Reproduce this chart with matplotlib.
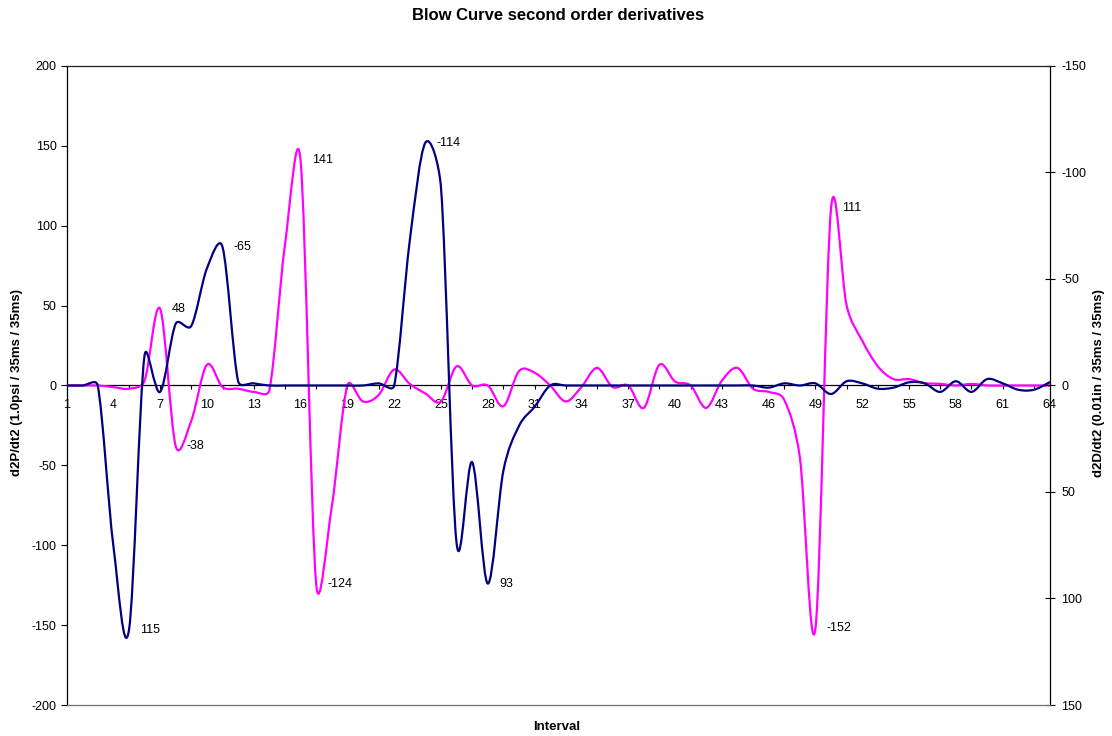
import numpy as np
import matplotlib
matplotlib.use("Agg")
import matplotlib.pyplot as plt
from matplotlib.path import Path
from matplotlib.patches import PathPatch

plt.rcParams["font.family"] = ["Liberation Sans", "DejaVu Sans"]
plt.rcParams["axes.unicode_minus"] = False

# ---------------- data ----------------
intervals = list(range(1, 65))

# d2P/dt2, left axis
pressure = [0, 0, 0, -1, -2, 3, 48, -38, -22, 13,
            -1, -2, -4, -3, 88, 141, -124, -76, 0, -10,
            -6, 10, 1, -5, -10, 12, 0, 0, -13, 9,
            8, 0, -10, -1, 11, -1, 0, -14, 13, 2.5,
            0, -14, 3, 11, -2, -4, -9, -45, -152, 111,
            50, 28, 12, 4, 4, 1.5, 1, 0, 1, 0,
            0, 0, 0, 0]

# d2D/dt2, right axis (inverted)
displacement = [0, 0, 0, 75, 115, -14, 3, -29, -28, -55,
                -65, -2, -1, 0, 0, 0, 0, 0, 0, 0,
                -1, 0, -68, -114, -93, 74, 36, 93, 40, 19,
                10, 0, 0, 0, 0, 0, 0, 0, 0, 0,
                0, 0, 0, 0, 0, 1, -1, 0, -1, 4,
                -2, -1, 1.5, 1, -1.5, -1, 3, -2, 3, -3,
                -1, 2, 2, -1.5]

pressure_labels = [7, 8, 16, 17, 49, 50]
displacement_labels = [5, 11, 24, 28]
x_labels = list(range(1, 65, 3))

W, H = 1112, 736


def smooth_line(axis, xs, ys, color, cap=0.5):
    # Excel-like smoothed line: cubic bezier through the points,
    # computed in screen space so the arms can be limited
    pts = axis.transData.transform(np.column_stack([xs, ys]))
    n = len(pts)
    verts = [pts[0]]
    codes = [Path.MOVETO]
    for i in range(n - 1):
        p0 = pts[max(i - 1, 0)]
        p1 = pts[i]
        p2 = pts[i + 1]
        p3 = pts[min(i + 2, n - 1)]
        seg = np.hypot(*(p2 - p1))
        arms = []
        for t in ((p2 - p0) / 6.0, (p3 - p1) / 6.0):
            L = np.hypot(*t)
            if L > cap * seg and L > 0:
                t = t * cap * seg / L
            arms.append(t)
        verts += [p1 + arms[0], p2 - arms[1], p2]
        codes += [Path.CURVE4] * 3
    data_verts = axis.transData.inverted().transform(np.array(verts))
    patch = PathPatch(Path(data_verts, codes), fill=False,
                      edgecolor=color, lw=1.6, zorder=3,
                      capstyle="round", joinstyle="round")
    axis.add_patch(patch)


fig = plt.figure(figsize=(W / 100, H / 100), dpi=100)
fig.patch.set_facecolor("white")

ax = fig.add_axes([66.5 / W, 1 - 705 / H, 983 / W, 639 / H])
ax2 = ax.twinx()

ax.set_xlim(1, 64)
ax.set_ylim(-200, 200)
ax2.set_ylim(150, -150)

# left axis
ax.set_yticks(range(-200, 201, 50))
ax.tick_params(axis="y", direction="out", length=4, width=0.8,
               pad=3, labelsize=9)

# category axis crossing at zero
ax.spines["bottom"].set_position(("data", 0))
ax.spines["top"].set_visible(False)
ax.spines["right"].set_visible(False)
ax.xaxis.remove_overlapping_locs = False
ax.set_xticks(range(1, 65, 2))
ax.set_xticklabels([])
ax.set_xticks(x_labels, minor=True)
ax.set_xticklabels([str(v) for v in x_labels], minor=True)
ax.tick_params(axis="x", which="major", direction="out", length=3,
               width=0.8)
ax.tick_params(axis="x", which="minor", length=0, pad=10, labelsize=9)

# right axis
ax2.set_yticks(range(-150, 151, 50))
ax2.tick_params(axis="y", direction="inout", length=7, width=0.8,
                pad=5, labelsize=9)
ax2.spines["left"].set_visible(False)
ax2.spines["top"].set_color("#202020")
ax2.spines["bottom"].set_color("#707070")

for a in (ax, ax2):
    for s in a.spines.values():
        s.set_linewidth(0.9)

smooth_line(ax, intervals, pressure, "#FF00FF")
smooth_line(ax2, intervals, displacement, "#000080")

for c in pressure_labels:
    v = pressure[c - 1]
    ax.annotate(f"{v:g}", (c, v), xytext=(8, 0), textcoords="offset points",
                ha="left", va="center", fontsize=9)
for c in displacement_labels:
    v = displacement[c - 1]
    ax2.annotate(f"{v:g}", (c, v), xytext=(8, 0), textcoords="offset points",
                 ha="left", va="center", fontsize=9)

fig.text(558.5 / W, 1 - 19.5 / H, "Blow Curve second order derivatives",
         ha="center", va="baseline", fontsize=12, fontweight="bold")
fig.text(16.7 / W, 1 - 382 / H, "d2P/dt2 (1.0psi / 35ms / 35ms)",
         rotation=90, ha="center", va="center", fontsize=9.5,
         fontweight="bold")
fig.text(1099 / W, 1 - 383 / H, "d2D/dt2 (0.01in / 35ms / 35ms)",
         rotation=90, ha="center", va="center", fontsize=9.5,
         fontweight="bold")
fig.text(557 / W, 1 - 727 / H, "Interval", ha="center", va="center",
         fontsize=9.5, fontweight="bold")

fig.savefig("out.png", dpi=100)
